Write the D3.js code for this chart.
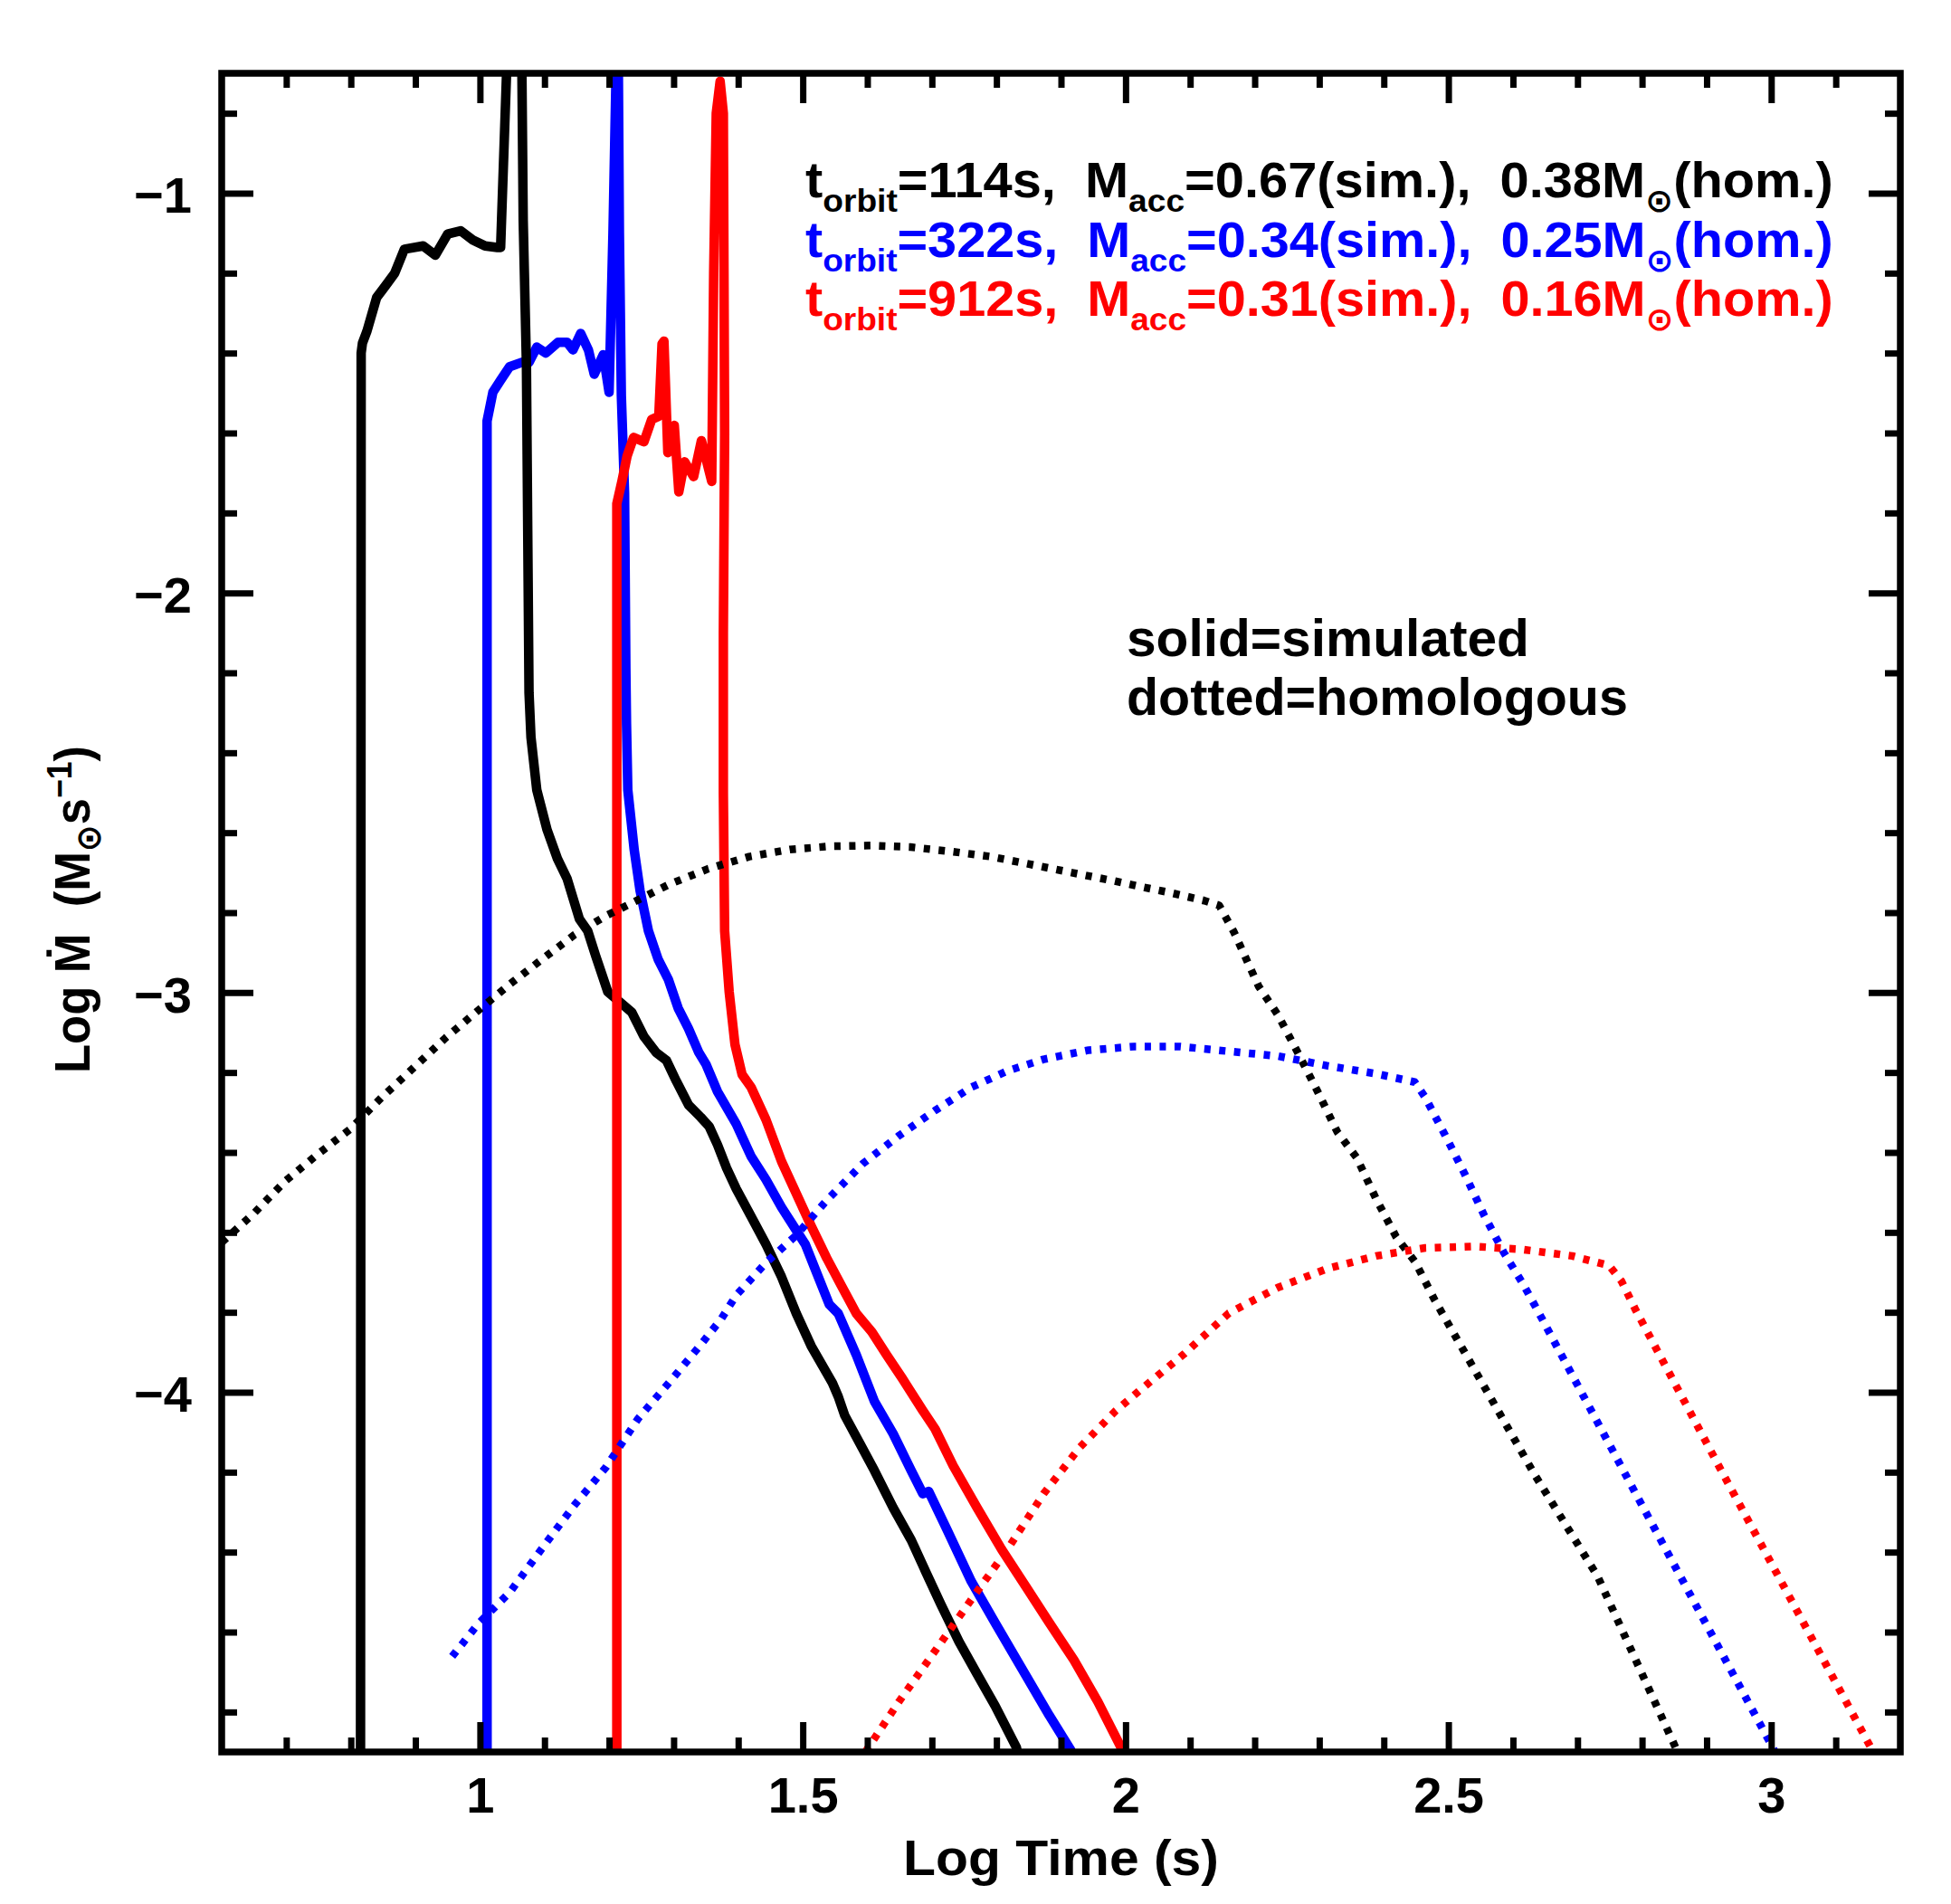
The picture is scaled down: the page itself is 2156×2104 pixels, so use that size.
<!DOCTYPE html>
<html>
<head>
<meta charset="utf-8">
<script src="https://cdn.jsdelivr.net/npm/d3@7"></script>
<style>
  html, body { margin: 0; padding: 0; background: #ffffff; overflow: hidden; }
  text { font-family: "Liberation Sans", Arial, "DejaVu Sans", sans-serif; font-weight: bold; white-space: pre; }
</style>
</head>
<body>
<svg id="chart" width="2156" height="2104" xmlns="http://www.w3.org/2000/svg"></svg>
<script>
// ---------------- data ----------------
const xDomain = [0.6, 3.2];
const yDomain = [-4.9, -0.7];
const xMajorTicks = [1, 1.5, 2, 2.5, 3];
const xMinorTicks = [0.7,0.8,0.9,1.1,1.2,1.3,1.4,1.6,1.7,1.8,1.9,2.1,2.2,2.3,2.4,2.6,2.7,2.8,2.9,3.1];
const yMajorTicks = [-4, -3, -2, -1];
const yMinorTicks = [-4.8,-4.6,-4.4,-4.2,-3.8,-3.6,-3.4,-3.2,-2.8,-2.6,-2.4,-2.2,-1.8,-1.6,-1.4,-1.2,-0.8];

const seriesColors = ["#000000", "#0000ff", "#ff0000"];
const tOrbit = [114, 322, 912];
const mAccSim = [0.67, 0.34, 0.31];
const mAccHom = [0.38, 0.25, 0.16];

// simulated (solid) accretion rates: [log t, log Mdot]
const blackSim = [
  [0.815,-4.95],[0.816,-1.40],[0.818,-1.375],[0.825,-1.345],[0.840,-1.261],[0.854,-1.231],[0.868,-1.200],
  [0.883,-1.140],[0.912,-1.132],[0.931,-1.155],[0.950,-1.102],[0.970,-1.094],[0.989,-1.117],[1.008,-1.132],
  [1.027,-1.136],[1.032,-1.136],[1.041,-0.71],[1.0425,-0.60],[1.064,-0.60],[1.065,-0.70],[1.067,-1.068],
  [1.072,-1.43],[1.074,-1.845],[1.076,-2.25],[1.079,-2.361],[1.088,-2.493],[1.104,-2.593],[1.120,-2.665],
  [1.135,-2.715],[1.154,-2.816],[1.167,-2.846],[1.179,-2.907],[1.198,-2.998],[1.217,-3.024],[1.235,-3.049],
  [1.254,-3.110],[1.273,-3.150],[1.289,-3.170],[1.304,-3.221],[1.323,-3.281],[1.342,-3.312],[1.355,-3.335],
  [1.368,-3.381],[1.382,-3.439],[1.397,-3.491],[1.420,-3.560],[1.443,-3.630],[1.467,-3.711],[1.490,-3.803],
  [1.513,-3.884],[1.546,-3.977],[1.555,-4.011],[1.565,-4.058],[1.588,-4.127],[1.611,-4.196],[1.640,-4.289],
  [1.668,-4.370],[1.691,-4.451],[1.714,-4.531],[1.742,-4.624],[1.770,-4.705],[1.798,-4.785],[1.831,-4.889],
  [1.838,-4.95]
];
const blueSim = [
  [1.011,-4.95],[1.011,-1.57],[1.020,-1.498],[1.032,-1.468],[1.046,-1.434],[1.065,-1.423],[1.076,-1.423],
  [1.088,-1.385],[1.102,-1.400],[1.121,-1.373],[1.135,-1.373],[1.144,-1.392],[1.156,-1.351],[1.168,-1.392],
  [1.177,-1.453],[1.191,-1.404],[1.200,-1.498],[1.206,-1.10],[1.212,-0.60],[1.214,-0.60],[1.216,-1.10],
  [1.219,-1.506],[1.224,-1.75],[1.226,-2.19],[1.227,-2.327],[1.229,-2.493],[1.239,-2.644],[1.248,-2.745],
  [1.261,-2.846],[1.276,-2.917],[1.292,-2.968],[1.307,-3.039],[1.323,-3.090],[1.339,-3.150],[1.350,-3.179],
  [1.368,-3.248],[1.397,-3.329],[1.420,-3.410],[1.443,-3.468],[1.467,-3.537],[1.490,-3.595],[1.504,-3.630],
  [1.518,-3.687],[1.541,-3.780],[1.555,-3.803],[1.583,-3.907],[1.611,-4.023],[1.640,-4.104],[1.668,-4.196],
  [1.686,-4.254],[1.695,-4.248],[1.724,-4.346],[1.761,-4.473],[1.798,-4.577],[1.840,-4.693],[1.882,-4.809],
  [1.915,-4.895],[1.919,-4.95]
];
const redSim = [
  [1.212,-4.95],[1.212,-1.777],[1.220,-1.720],[1.228,-1.657],[1.238,-1.611],[1.254,-1.622],[1.266,-1.566],
  [1.277,-1.558],[1.282,-1.377],[1.285,-1.370],[1.291,-1.649],[1.301,-1.581],[1.308,-1.747],[1.317,-1.672],
  [1.331,-1.709],[1.343,-1.619],[1.359,-1.721],[1.362,-1.20],[1.366,-0.80],[1.372,-0.720],[1.377,-0.80],
  [1.378,-1.20],[1.379,-1.60],[1.377,-2.10],[1.377,-2.50],[1.379,-2.846],[1.386,-2.998],[1.395,-3.130],
  [1.406,-3.205],[1.420,-3.237],[1.443,-3.318],[1.467,-3.422],[1.490,-3.503],[1.513,-3.584],[1.537,-3.664],
  [1.560,-3.734],[1.583,-3.803],[1.607,-3.849],[1.630,-3.907],[1.654,-3.965],[1.686,-4.046],[1.705,-4.092],
  [1.733,-4.184],[1.770,-4.289],[1.808,-4.393],[1.845,-4.485],[1.882,-4.577],[1.920,-4.670],[1.957,-4.774],
  [1.995,-4.895],[1.999,-4.95]
];

// homologous (dotted) accretion rates
const blackHom = [
  [0.600,-3.625],[0.650,-3.552],[0.699,-3.471],[0.749,-3.404],[0.798,-3.343],[0.848,-3.262],[0.898,-3.187],
  [0.947,-3.113],[0.997,-3.045],[1.047,-2.978],[1.096,-2.917],[1.146,-2.856],[1.195,-2.808],[1.229,-2.781],
  [1.292,-2.730],[1.354,-2.690],[1.417,-2.660],[1.480,-2.642],[1.542,-2.634],[1.605,-2.632],[1.667,-2.636],
  [1.730,-2.647],[1.792,-2.660],[1.855,-2.680],[1.917,-2.700],[1.980,-2.720],[2.020,-2.734],[2.069,-2.750],
  [2.122,-2.770],[2.145,-2.782],[2.168,-2.849],[2.206,-2.984],[2.236,-3.056],[2.267,-3.151],[2.297,-3.246],
  [2.328,-3.349],[2.358,-3.413],[2.388,-3.516],[2.419,-3.611],[2.449,-3.675],[2.479,-3.770],[2.635,-4.210],
  [2.731,-4.460],[2.855,-4.900]
];
const blueHom = [
  [0.957,-4.661],[0.997,-4.580],[1.047,-4.499],[1.096,-4.391],[1.146,-4.283],[1.195,-4.188],[1.245,-4.066],
  [1.295,-3.972],[1.344,-3.877],[1.374,-3.816],[1.397,-3.757],[1.443,-3.676],[1.490,-3.607],[1.537,-3.520],
  [1.593,-3.428],[1.649,-3.358],[1.705,-3.295],[1.761,-3.237],[1.817,-3.196],[1.873,-3.167],[1.943,-3.144],
  [2.013,-3.135],[2.085,-3.135],[2.160,-3.147],[2.236,-3.159],[2.312,-3.183],[2.388,-3.203],[2.448,-3.224],
  [2.464,-3.262],[2.495,-3.357],[2.525,-3.453],[2.555,-3.556],[2.586,-3.651],[2.616,-3.730],[2.635,-3.786],
  [2.789,-4.250],[3.006,-4.900]
];
const redHom = [
  [1.597,-4.900],[1.649,-4.774],[1.705,-4.647],[1.761,-4.519],[1.817,-4.393],[1.873,-4.254],[1.929,-4.138],
  [1.985,-4.046],[2.023,-3.994],[2.090,-3.905],[2.160,-3.802],[2.236,-3.738],[2.312,-3.691],[2.388,-3.659],
  [2.464,-3.639],[2.540,-3.635],[2.616,-3.643],[2.692,-3.659],[2.749,-3.683],[2.768,-3.722],[2.790,-3.794],
  [2.924,-4.200],[3.158,-4.900]
];

// ---------------- layout ----------------
const L = 245, R = 2100, T = 81, B = 1936;
const svg = d3.select("#chart");
const x = d3.scaleLinear().domain(xDomain).range([L, R]);
const y = d3.scaleLinear().domain(yDomain).range([B, T]);

svg.append("defs").append("clipPath").attr("id", "plotclip")
  .append("rect").attr("x", L).attr("y", T).attr("width", R - L).attr("height", B - T);

const line = d3.line().x(d => x(d[0])).y(d => y(d[1])).curve(d3.curveLinear);
const plot = svg.append("g").attr("clip-path", "url(#plotclip)");

const solids = [[blueSim, 1], [blackSim, 0], [redSim, 2]];
solids.forEach(([data, ci]) => {
  plot.append("path").datum(data).attr("d", line)
    .attr("fill", "none").attr("stroke", seriesColors[ci])
    .attr("stroke-width", 10.5).attr("stroke-linejoin", "round").attr("stroke-linecap", "butt");
});
const dotted = [[blackHom, 0], [blueHom, 1], [redHom, 2]];
dotted.forEach(([data, ci]) => {
  plot.append("path").datum(data).attr("d", line)
    .attr("fill", "none").attr("stroke", seriesColors[ci])
    .attr("stroke-width", 8.5).attr("stroke-dasharray", "7,9.5")
    .attr("stroke-linecap", "butt").attr("stroke-linejoin", "round");
});

// ---------------- axes ----------------
function styleAxis(g, sw) {
  g.select(".domain").remove();
  g.selectAll(".tick line").attr("stroke", "#000").attr("stroke-width", sw);
  g.attr("font-family", null).attr("font-size", null);
}
const fmt = d => (d < 0 ? "\u2212" + Math.abs(d) : String(d));

// bottom
const gBx = svg.append("g").attr("transform", `translate(0,${B})`)
  .call(d3.axisBottom(x).tickValues(xMajorTicks).tickSizeInner(-33).tickSizeOuter(0).tickFormat(fmt));
styleAxis(gBx, 7);
gBx.selectAll(".tick text").attr("y", 67).attr("dy", null).attr("font-size", 56).attr("fill", "#000");
svg.append("g").attr("transform", `translate(0,${B})`)
  .call(d3.axisBottom(x).tickValues(xMinorTicks).tickSizeInner(-16).tickSizeOuter(0).tickFormat(""))
  .call(g => styleAxis(g, 7));
// top
svg.append("g").attr("transform", `translate(0,${T})`)
  .call(d3.axisTop(x).tickValues(xMajorTicks).tickSizeInner(-33).tickSizeOuter(0).tickFormat(""))
  .call(g => styleAxis(g, 7));
svg.append("g").attr("transform", `translate(0,${T})`)
  .call(d3.axisTop(x).tickValues(xMinorTicks).tickSizeInner(-16).tickSizeOuter(0).tickFormat(""))
  .call(g => styleAxis(g, 7));
// left
const gLy = svg.append("g").attr("transform", `translate(${L},0)`)
  .call(d3.axisLeft(y).tickValues(yMajorTicks).tickSizeInner(-35).tickSizeOuter(0).tickFormat(fmt));
styleAxis(gLy, 7);
gLy.selectAll(".tick text").attr("x", -33).attr("dy", "0.38em").attr("font-size", 56).attr("fill", "#000");
svg.append("g").attr("transform", `translate(${L},0)`)
  .call(d3.axisLeft(y).tickValues(yMinorTicks).tickSizeInner(-17).tickSizeOuter(0).tickFormat(""))
  .call(g => styleAxis(g, 7));
// right
svg.append("g").attr("transform", `translate(${R},0)`)
  .call(d3.axisRight(y).tickValues(yMajorTicks).tickSizeInner(-35).tickSizeOuter(0).tickFormat(""))
  .call(g => styleAxis(g, 7));
svg.append("g").attr("transform", `translate(${R},0)`)
  .call(d3.axisRight(y).tickValues(yMinorTicks).tickSizeInner(-17).tickSizeOuter(0).tickFormat(""))
  .call(g => styleAxis(g, 7));

// frame
svg.append("rect").attr("x", L).attr("y", T).attr("width", R - L).attr("height", B - T)
  .attr("fill", "none").attr("stroke", "#000").attr("stroke-width", 7.5).attr("stroke-linejoin", "miter");

// ---------------- texts ----------------
function fit(textSel, target) {
  const w = textSel.node().getBBox().width;
  if (w > 0) textSel.attr("transform", `scale(${target / w},1)`);
}

// x title
const gxt = svg.append("g").attr("transform", `translate(${(L + R) / 2},2072)`);
const xt = gxt.append("text").attr("text-anchor", "middle").attr("font-size", 56).attr("fill", "#000")
  .text("Log Time (s)");
fit(xt, 349);

// y title
const gyt = svg.append("g").attr("transform", `translate(99,1005) rotate(-90)`);
const yt = gyt.append("text").attr("text-anchor", "middle").attr("font-size", 56).attr("fill", "#000");
yt.append("tspan").text("Log \u1E40  (M");
yt.append("tspan").attr("font-size", 38).attr("dy", 12).text("\u2299");
yt.append("tspan").attr("dy", -12).text("s");
yt.append("tspan").attr("font-size", 38).attr("dy", -20).text("\u22121");
yt.append("tspan").attr("dy", 20).text(")");
fit(yt, 362);

// legend lines
const legendBaselines = [218, 284, 349];
tOrbit.forEach((t, i) => {
  const g = svg.append("g").attr("transform", `translate(890,${legendBaselines[i]})`);
  const tx = g.append("text").attr("font-size", 56).attr("fill", seriesColors[i]);
  tx.append("tspan").text("t");
  tx.append("tspan").attr("font-size", 36).attr("dy", 16).text("orbit");
  tx.append("tspan").attr("dy", -16).text(`=${t}s,  M`);
  tx.append("tspan").attr("font-size", 36).attr("dy", 16).text("acc");
  tx.append("tspan").attr("dy", -16).text(`=${mAccSim[i].toFixed(2)}(sim.),  ${mAccHom[i].toFixed(2)}M`);
  tx.append("tspan").attr("font-size", 36).attr("dy", 16).text("\u2299");
  tx.append("tspan").attr("dy", -16).text("(hom.)");
  fit(tx, 1136);
});

// line-style notes
const notes = [["solid=simulated", 725, 445], ["dotted=homologous", 790, 554]];
notes.forEach(([s, yb, w]) => {
  const g = svg.append("g").attr("transform", `translate(1245,${yb})`);
  const tx = g.append("text").attr("font-size", 57).attr("fill", "#000").text(s);
  fit(tx, w);
});
</script>
</body>
</html>
